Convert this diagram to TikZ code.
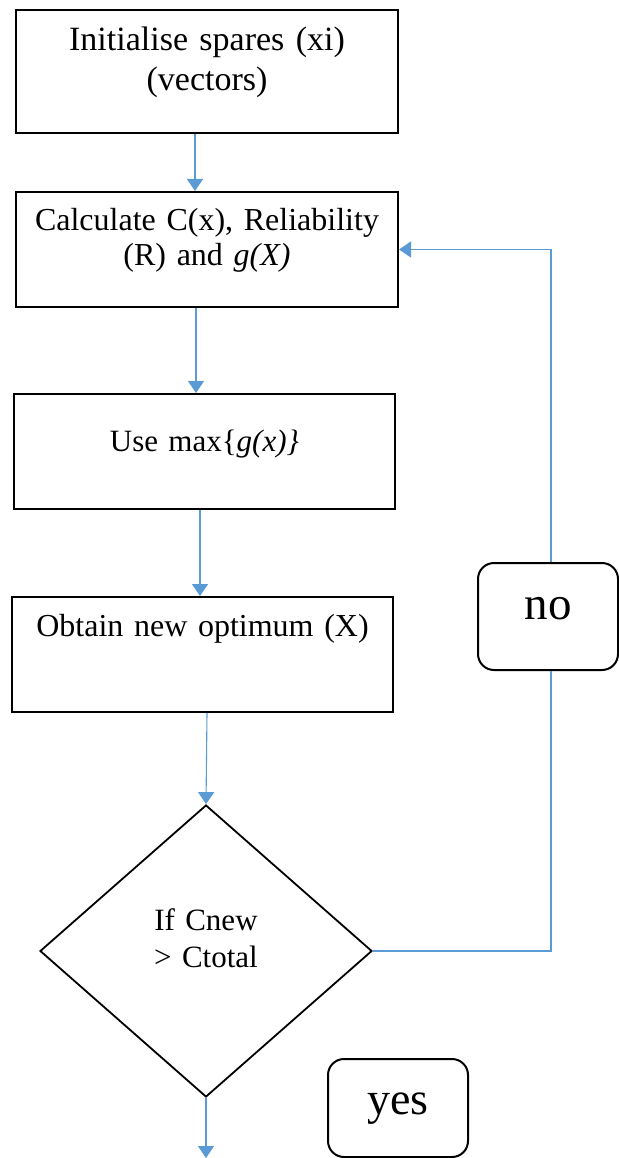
\documentclass[tikz,border=0pt]{standalone}
\usepackage{fontspec}
\setmainfont{Liberation Serif}
\usetikzlibrary{arrows.meta,shapes.geometric}
\definecolor{flowblue}{HTML}{5B9BD5}

\begin{document}
\begin{tikzpicture}[x=1pt,y=-1pt]
    \useasboundingbox (0,0) rectangle (618,1158);
    \begin{scope}[every node/.style={draw=black,line width=2pt,inner sep=0pt,align=center}]
      \node[shape=rectangle,anchor=north west,text width=382pt,text height=41pt,text depth=82pt,
        font=\fontsize{34}{40}\selectfont] (A) at (15,9) {Initialise spares (xi)\\(vectors)};
      \node[shape=rectangle,anchor=north west,text width=382pt,text height=39pt,text depth=76pt,
        font=\fontsize{32}{35}\selectfont] (B) at (15,191) {Calculate C(x), Reliability\\(R) and \textit{g(X)}};
      \node[shape=rectangle,anchor=north west,text width=381pt,text height=57pt,text depth=58pt,
        font=\fontsize{31}{35}\selectfont] (C) at (13,393) {Use max\{\textit{g(x)\}}};
      \node[shape=rectangle,anchor=north west,text width=381pt,text height=39pt,text depth=76pt,
        font=\fontsize{32}{35}\selectfont] (D) at (11,596) {Obtain new optimum (X)};

      \node[shape=diamond,line width=1.8pt,minimum width=332pt,minimum height=292pt,
        text width=120pt,text height=30pt,text depth=72pt,
        font=\fontsize{31}{37}\selectfont] (E) at (206,951) {If Cnew\\> Ctotal};

      \node[shape=rectangle,rounded corners=16pt,anchor=north west,minimum width=140pt,
        text height=56pt,text depth=51pt,font=\fontsize{47}{50}\selectfont] (N) at (477,562) {no};
      \node[shape=rectangle,rounded corners=16pt,anchor=north west,minimum width=140pt,
        text height=55pt,text depth=43pt,font=\fontsize{46}{50}\selectfont] (Y) at (327,1058) {yes};
    \end{scope}

    \coordinate (out) at (206,1158);

    \begin{scope}[>={Triangle[width=16pt,length=12pt]},
        every edge/.style={draw=flowblue,line width=1.1pt}]
      \path [->] ([xshift=-12pt]A.south) edge ([xshift=-12pt]B.north);
      \path [->] ([xshift=-11pt]B.south) edge ([xshift=-8.5pt]C.north);
      \path [->] ([xshift=-4.5pt]C.south) edge ([xshift=-2.5pt]D.north);
      \path [->] ([xshift=4.5pt]D.south) edge (E.north);
      \path [->] (E.south) edge (out);
      \draw [flowblue,line width=1.1pt] (E.east) -| ([xshift=3pt]N.south);
      \draw [->,flowblue,line width=1.1pt] ([xshift=3pt]N.north) |- (B.east);
    \end{scope}
  \end{tikzpicture}
\end{document}
